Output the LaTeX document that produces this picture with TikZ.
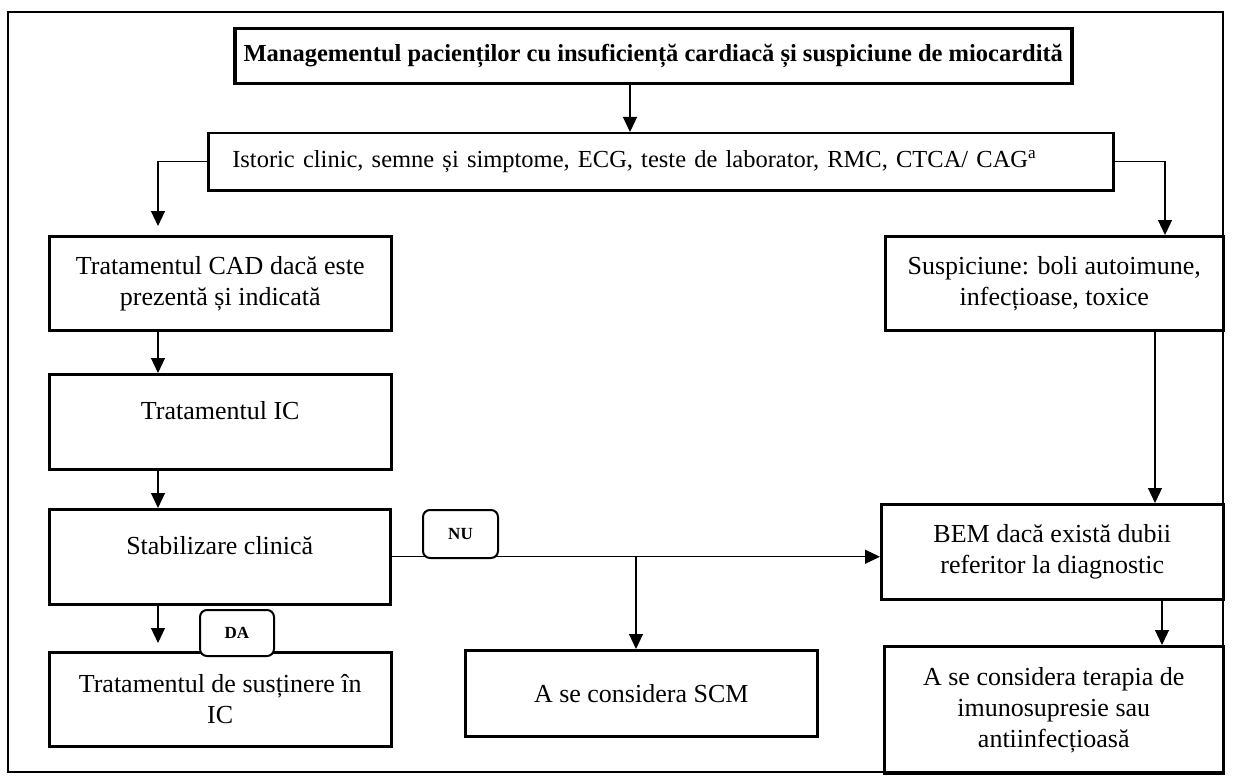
\documentclass[tikz,border=0pt]{standalone}
\usepackage{fontspec}
\setmainfont{Liberation Serif}
\usetikzlibrary{arrows.meta}
\begin{document}
\begin{tikzpicture}[x=1pt,y=-1pt,
  box/.style={draw=black, line width=2.5pt, align=center, inner sep=0pt, anchor=north west,
    font=\fontsize{26}{31}\selectfont},
  raised/.style={text depth=22pt},
  conn/.style={line width=1.2pt, -{Triangle[length=15pt,width=14pt]}},
  tag/.style={draw=black, fill=white, rounded corners=7pt, line width=2pt, anchor=north west,
    inner sep=0pt, font=\bfseries\fontsize{17}{20}\selectfont}]
\useasboundingbox (0,0) rectangle (1248,781);
\draw[line width=2pt] (8,12) rectangle (1223,772);

\node[box, line width=3.5pt, minimum width=837pt, minimum height=55pt,
  font=\bfseries\fontsize{24.5}{29}\selectfont] (title) at (233,27)
  {Managementul pacienților cu insuficiență cardiacă și suspiciune de miocardită};
\node[box, minimum width=905pt, minimum height=57pt, text width=857pt, align=left,
  font=\fontsize{24.5}{29}\selectfont] (hist) at (207,132)
  {Istoric clinic, semne și simptome, ECG, teste de laborator, RMC, CTCA/ CAG\textsuperscript{a}};

\node[box, minimum width=342pt, minimum height=94pt] (cad) at (48,235)
  {Tratamentul CAD dacă este\\prezentă și indicată};
\node[box, raised, minimum width=342pt, minimum height=95pt] (ic) at (48,373) {Tratamentul IC};
\node[box, raised, minimum width=341pt, minimum height=95pt] (stab) at (48,508) {Stabilizare clinică};
\node[box, minimum width=342pt, minimum height=94pt] (sust) at (48,651)
  {Tratamentul de susținere în\\IC};
\node[box, minimum width=352pt, minimum height=86pt] (scm) at (464,649) {A se considera SCM};

\node[box, minimum width=338pt, minimum height=94pt] (susp) at (884,235)
  {Suspiciune: boli autoimune,\\infecțioase, toxice};
\node[box, minimum width=342pt, minimum height=95pt] (bem) at (880,503)
  {BEM dacă există dubii\\referitor la diagnostic};
\node[box, minimum width=339pt, minimum height=127pt] (ter) at (883,645)
  {A se considera terapia de\\imunosupresie sau\\antiinfecțioasă};

\coordinate (xa) at (630,0);
\coordinate (xl) at (158,0);
\coordinate (xr) at (1165,0);
\coordinate (xs) at (636,0);
\coordinate (xb) at (1155,0);
\coordinate (xt) at (1162,0);

\draw[conn] (xa |- title.south) -- (xa |- hist.north);
\draw[conn, shorten >=9pt] (hist.west) -| (xl |- cad.north);
\draw[conn] (hist.east) -| (xr |- susp.north);
\draw[conn] (xl |- cad.south) -- (xl |- ic.north);
\draw[conn] (xl |- ic.south) -- (xl |- stab.north);
\draw[conn, shorten >=8pt] (xl |- stab.south) -- (xl |- sust.north);
\draw[conn] (stab.east) -- (stab.east -| bem.west);
\draw[conn] (xs |- stab.east) -- (xs |- scm.north);
\draw[conn] (xb |- susp.south) -- (xb |- bem.north);
\draw[conn] (xt |- bem.south) -- (xt |- ter.north);

\node[tag, minimum width=75pt, minimum height=48pt] (nu) at (422,509) {NU};
\node[tag, minimum width=74pt, minimum height=46pt] (da) at (199,609) {DA};
\end{tikzpicture}
\end{document}
